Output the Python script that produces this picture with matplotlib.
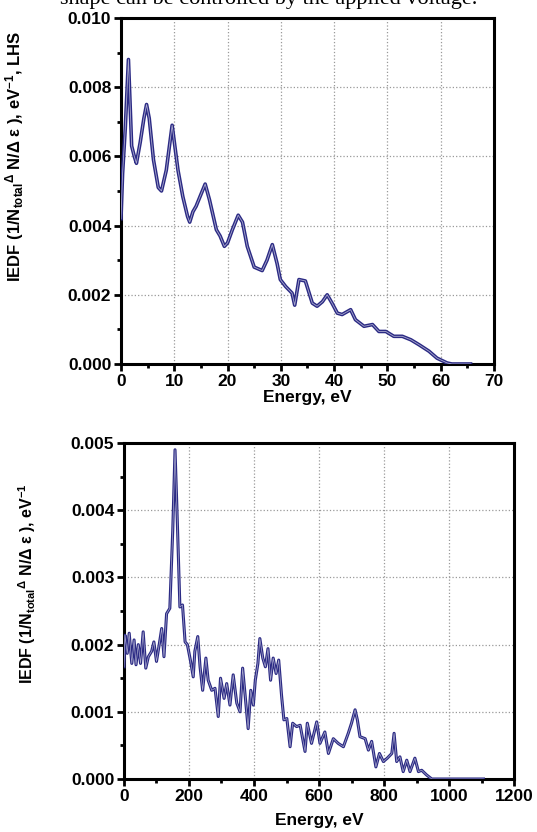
import numpy as np
import matplotlib.pyplot as plt
from matplotlib.ticker import MultipleLocator, FormatStrFormatter

plt.rcParams['font.family'] = ['Liberation Sans', 'DejaVu Sans']
plt.rcParams['font.weight'] = 'bold'
plt.rcParams['mathtext.fontset'] = 'custom'
plt.rcParams['mathtext.rm'] = 'Liberation Sans'
plt.rcParams['mathtext.bf'] = 'Liberation Sans:bold'
plt.rcParams['mathtext.it'] = 'Liberation Sans'

# top panel: low energy IEDF (eV, 1/eV)
energy_low = [0.0, 0.3, 0.8, 1.4, 2.0, 2.5, 2.9, 3.6, 4.3, 4.8, 5.3, 6.1, 7.0, 7.6,
              8.5, 9.6, 10.7, 11.6, 12.5, 12.9, 13.5, 14.1, 15.0, 15.8, 16.6,
              17.9, 18.6, 19.4, 20.0, 20.9, 22.0, 22.8, 23.7, 25.0, 26.5, 27.4,
              28.4, 29.3, 29.9, 30.9, 32.1, 32.6, 33.4, 34.6, 35.9, 36.8, 37.8,
              38.7, 39.6, 40.6, 41.5, 43.1, 44.0, 45.6, 47.2, 48.4, 49.7, 51.2,
              52.8, 54.4, 55.9, 57.8, 59.3, 61.2, 62.1, 65.6]
iedf_low = [0.0042, 0.0055, 0.0068, 0.0088, 0.0063, 0.0060, 0.0058, 0.0064, 0.0071,
            0.0075, 0.0071, 0.0059, 0.0051, 0.0050, 0.0056, 0.0069, 0.0056, 0.00484,
            0.00426, 0.0041, 0.0044, 0.00456, 0.0049, 0.0052, 0.00475, 0.00388,
            0.0037, 0.0034, 0.0035, 0.00388, 0.0043, 0.0041, 0.0034, 0.0028, 0.0027,
            0.0030, 0.00345, 0.0029, 0.00244, 0.00224, 0.00205, 0.0017, 0.00244,
            0.0024, 0.00176, 0.00167, 0.0018, 0.0020, 0.00176, 0.00147, 0.00143,
            0.00157, 0.00128, 0.00109, 0.00114, 0.00094, 0.00094, 0.0008, 0.0008,
            0.0007, 0.00056, 0.00037, 0.00017, 0.00003, 0.0, 0.0]

# bottom panel: high energy IEDF
energy_high = [0, 3, 10, 16, 24, 31, 37, 44, 51, 59, 67, 75, 85, 92, 100, 109, 116,
               123, 131, 141, 150, 157, 163, 172, 180, 188, 195, 205, 213, 218, 227,
               234, 242, 252, 259, 270, 280, 290, 297, 308, 316, 326, 336, 347, 357,
               365, 373, 382, 390, 398, 404, 412, 418, 427, 435, 443, 451, 459, 468,
               476, 485, 492, 501, 511, 519, 531, 542, 557, 564, 577, 593, 603, 618,
               629, 644, 659, 675, 690, 700, 711, 718, 726, 742, 752, 762, 775, 786,
               798, 810, 824, 831, 839, 849, 859, 870, 880, 895, 906, 916, 931, 947,
               1000, 1106]
iedf_high = [0.00167, 0.00214, 0.00187, 0.00217, 0.00172, 0.00207, 0.0017, 0.0020,
             0.00172, 0.00219, 0.00165, 0.00182, 0.0019, 0.00204, 0.00175, 0.00202,
             0.00224, 0.00182, 0.00246, 0.00254, 0.0037, 0.0049, 0.0040, 0.00256,
             0.00259, 0.00204, 0.0020, 0.00175, 0.00152, 0.0019, 0.00212, 0.00167,
             0.00132, 0.0018, 0.00147, 0.00132, 0.00135, 0.00093, 0.0015, 0.0012,
             0.00142, 0.0011, 0.00155, 0.00113, 0.0010, 0.00165, 0.00123, 0.00075,
             0.00132, 0.0011, 0.00147, 0.00172, 0.00209, 0.0018, 0.00167, 0.00194,
             0.00147, 0.0018, 0.00157, 0.00177, 0.00123, 0.00088, 0.0009, 0.00048,
             0.00083, 0.00078, 0.0008, 0.00041, 0.00083, 0.00053, 0.00085, 0.00053,
             0.0007, 0.00038, 0.0006, 0.00053, 0.00048, 0.00068, 0.00083, 0.00103,
             0.00088, 0.00063, 0.0006, 0.00043, 0.00056, 0.00018, 0.00038, 0.00026,
             0.00031, 0.00038, 0.00068, 0.00026, 0.00033, 0.00011, 0.00028, 0.00011,
             0.00031, 0.00011, 0.00013, 0.00006, 0.0, 0.0, 0.0]

line_color = '#2b2a84'
ylab = (r'IEDF (1/N$_{\mathbf{total}}$$^{\Delta}$ N/$\Delta$ $\mathrm{\varepsilon}$ ), '
        r'eV$^{\mathbf{-1}}$')

fig = plt.figure(figsize=(5.37, 8.32), dpi=100)
fig.text(0.5, 0.9955, 'shape can be controlled by the applied voltage.',
         ha='center', va='baseline', fontsize=16, fontweight='normal',
         family='Liberation Serif')

ax1 = fig.add_axes([0.2253, 0.5625, 0.6946, 0.4159])
ax2 = fig.add_axes([0.2309, 0.0637, 0.7263, 0.4038])


def style(ax, xmax, xmaj, ymax, ymaj, fmt):
    ax.set_xlim(0, xmax)
    ax.set_ylim(0, ymax)
    ax.xaxis.set_major_locator(MultipleLocator(xmaj))
    ax.xaxis.set_minor_locator(MultipleLocator(xmaj / 2))
    ax.yaxis.set_major_locator(MultipleLocator(ymaj))
    ax.yaxis.set_minor_locator(MultipleLocator(ymaj / 2))
    ax.yaxis.set_major_formatter(FormatStrFormatter(fmt))
    ax.grid(True, which='major', color='#999999', linestyle=':', lw=0.9)
    ax.set_axisbelow(True)
    for s in ax.spines.values():
        s.set_linewidth(2.2)
    ax.tick_params(which='major', direction='out', length=5, width=2, labelsize=12.5, pad=2)
    ax.tick_params(which='minor', direction='out', length=3, width=2)
    for lab in ax.get_xticklabels() + ax.get_yticklabels():
        lab.set_fontweight('bold')


ax1.plot(energy_low, iedf_low, color=line_color, lw=2.6, zorder=3)
ax1.plot(energy_low, iedf_low, color='white', lw=0.6, alpha=0.6, zorder=4)
style(ax1, 70, 10, 0.010, 0.002, '%.3f')
ax1.set_xlabel('Energy, eV', fontsize=12.5, fontweight='bold', labelpad=1)
ax1.set_ylabel(ylab + ', LHS', fontsize=12, fontweight='bold')
ax1.yaxis.set_label_coords(-0.255, 0.60)

ax2.plot(energy_high, iedf_high, color=line_color, lw=2.2, zorder=3)
ax2.plot(energy_high, iedf_high, color='white', lw=0.5, alpha=0.6, zorder=4)
style(ax2, 1200, 200, 0.005, 0.001, '%.3f')
ax2.set_xlabel('Energy, eV', fontsize=12.5, fontweight='bold', labelpad=7)
ax2.set_ylabel(ylab, fontsize=11.5, fontweight='bold')
ax2.yaxis.set_label_coords(-0.22, 0.583)

fig.savefig('out.png', dpi=100)
